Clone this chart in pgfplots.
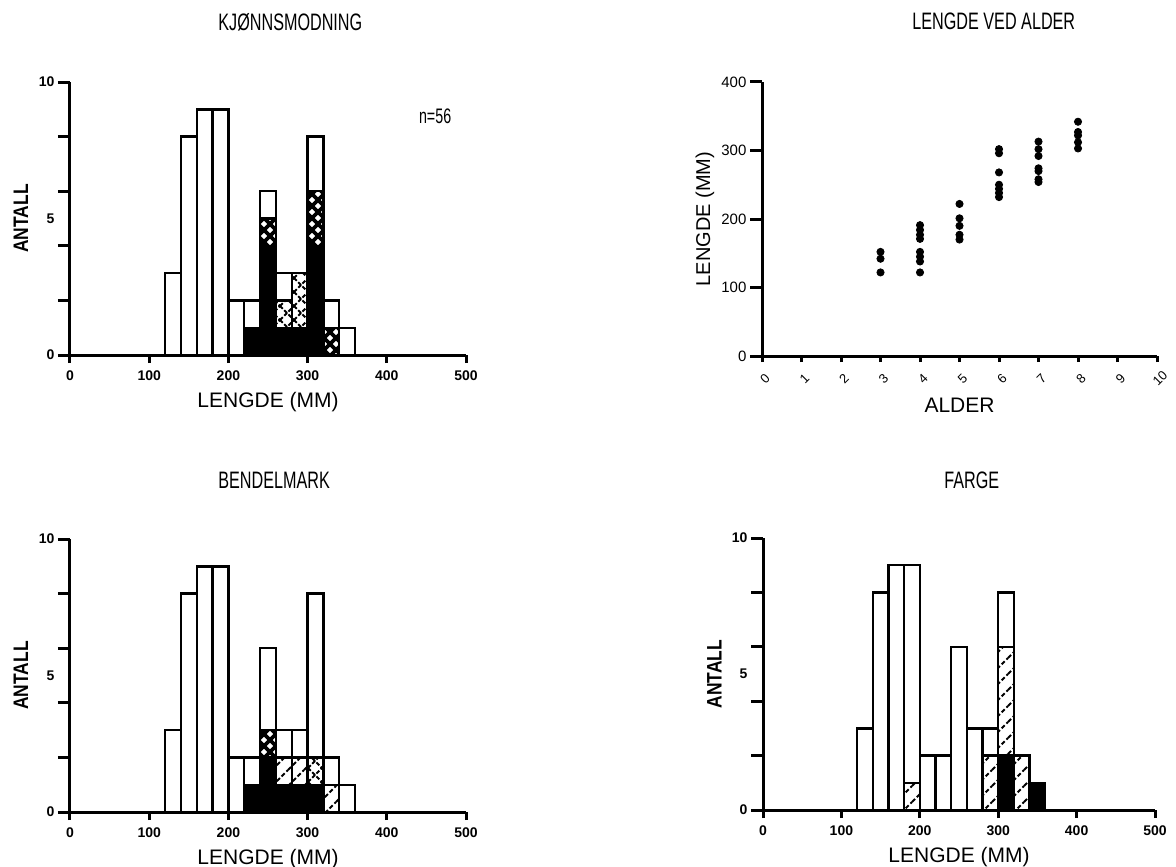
\documentclass[border=0pt]{standalone}
\usepackage{fontspec}
\setmainfont{Liberation Sans}
\newfontfamily\narrowfont[FakeStretch=0.68]{Liberation Sans}
\newfontfamily\semifont[FakeStretch=0.83]{Liberation Sans}
\usepackage{pgfplots}
\usepackage{pgfplotstable}
\pgfplotsset{compat=1.18}
\usetikzlibrary{patterns}

% black lattice with white holes
\pgfdeclarepatternformonly{thickx}{\pgfqpoint{-1pt}{-1pt}}{\pgfqpoint{7pt}{7pt}}{\pgfqpoint{6pt}{6pt}}{%
  \pgfsetlinewidth{1.8pt}
  \pgfpathmoveto{\pgfqpoint{0pt}{0pt}}\pgfpathlineto{\pgfqpoint{6pt}{6pt}}
  \pgfpathmoveto{\pgfqpoint{0pt}{6pt}}\pgfpathlineto{\pgfqpoint{6pt}{0pt}}
  \pgfusepath{stroke}}
% thin crosses
\pgfdeclarepatternformonly{thinx}{\pgfqpoint{-1pt}{-1pt}}{\pgfqpoint{8pt}{8pt}}{\pgfqpoint{7pt}{7pt}}{%
  \pgfsetlinewidth{0.9pt}
  \pgfsetdash{{2pt}{1pt}}{0pt}
  \pgfpathmoveto{\pgfqpoint{0pt}{0pt}}\pgfpathlineto{\pgfqpoint{7pt}{7pt}}
  \pgfpathmoveto{\pgfqpoint{0pt}{7pt}}\pgfpathlineto{\pgfqpoint{7pt}{0pt}}
  \pgfusepath{stroke}}
% dashed diagonals
\pgfdeclarepatternformonly{diag}{\pgfqpoint{-1pt}{-1pt}}{\pgfqpoint{9pt}{9pt}}{\pgfqpoint{8pt}{8pt}}{%
  \pgfsetlinewidth{0.9pt}
  \pgfsetdash{{2.2pt}{1.2pt}}{0pt}
  \pgfpathmoveto{\pgfqpoint{0pt}{0pt}}\pgfpathlineto{\pgfqpoint{8pt}{8pt}}
  \pgfusepath{stroke}}

\pgfplotstableread{
x   blk pc px wht
130 0 0 0 3
150 0 0 0 8
170 0 0 0 9
190 0 0 0 9
210 0 0 0 2
230 1 0 0 1
250 4 1 0 1
270 1 0 1 1
290 1 0 2 0
310 4 2 0 2
330 0 1 0 1
350 0 0 0 1
}\tabKJ

\pgfplotstableread{
x   blk pc dg px wht
130 0 0 0 0 3
150 0 0 0 0 8
170 0 0 0 0 9
190 0 0 0 0 9
210 0 0 0 0 2
230 1 0 0 0 1
250 2 1 0 0 3
270 1 0 1 0 1
290 1 0 1 0 1
310 1 0 0 1 6
330 0 0 1 0 1
350 0 0 0 0 1
}\tabBM

\pgfplotstableread{
x   blk dg wht
130 0 0 3
150 0 0 8
170 0 0 9
190 0 1 8
210 0 0 2
230 0 0 2
250 0 0 6
270 0 0 3
290 0 2 1
310 2 4 2
330 0 2 0
350 1 0 0
}\tabFA

\pgfplotsset{
  base/.style={
    scale only axis,
    axis x line*=bottom, axis y line*=left,
    axis line style={line width=1.5pt},
    tick align=outside,
    major tick style={line width=1.5pt, black},
    /pgf/number format/assume math mode=true,
    clip=false,
  },
  hist/.style={
    base,
    width=198pt, height=136.5pt,
    xmin=0, xmax=500, ymin=0, ymax=10,
    xtick style={/pgfplots/major tick length=4pt},
    ytick style={/pgfplots/major tick length=6pt},
    xtick={0,100,200,300,400,500},
    ytick={0,2,4,6,8,10}, yticklabels={0,,,,,10},
    extra y ticks={5}, extra y tick labels={5},
    extra y tick style={major tick style={draw=none}},
    tick label style={font=\bfseries\fontsize{7}{8}\selectfont},
    xlabel={LENGDE (MM)}, ylabel={ANTALL},
    xlabel style={at={(axis description cs:0.5,-0.172)}, anchor=center,
      font=\fontsize{10.5}{12}\selectfont},
    ylabel style={at={(axis description cs:-0.1237,0.5)}, anchor=center,
      font=\semifont\bfseries\fontsize{10.5}{12}\selectfont},
    ybar stacked, bar width=20,
  },
  blk/.style={fill=black, draw=black, line width=1.2pt},
  wht/.style={fill=white, draw=black, line width=1.2pt},
  pat/.style={pattern=#1, draw=black, line width=1.2pt},
}

\begin{document}
\begin{tikzpicture}
\path[use as bounding box] (0,0) rectangle (588pt,-433pt);

\node[anchor=west, inner sep=0, font=\narrowfont\fontsize{11.9}{13}\selectfont] at (109pt,-11pt) {KJØNNSMODNING};
\node[anchor=west, inner sep=0, font=\narrowfont\fontsize{11.9}{13}\selectfont] at (456pt,-10.5pt) {LENGDE VED ALDER};
\node[anchor=west, inner sep=0, font=\narrowfont\fontsize{11.9}{13}\selectfont] at (472pt,-240pt) {FARGE};
\node[anchor=west, inner sep=0, font=\narrowfont\fontsize{11.9}{13}\selectfont] at (109pt,-240pt) {BENDELMARK};

% KJØNNSMODNING
\begin{axis}[hist, at={(35pt,-177.5pt)}, anchor=south west]
\addplot[blk] table[x=x,y=blk]{\tabKJ};
\addplot[pat=thickx] table[x=x,y=pc]{\tabKJ};
\addplot[pat=thinx] table[x=x,y=px]{\tabKJ};
\addplot[wht] table[x=x,y=wht]{\tabKJ};
\node[font=\narrowfont\fontsize{10.5}{12}\selectfont] at (axis cs:461,8.75) {n=56};
\end{axis}

% BENDELMARK
\begin{axis}[hist, at={(35pt,-406pt)}, anchor=south west]
\addplot[blk] table[x=x,y=blk]{\tabBM};
\addplot[pat=thickx] table[x=x,y=pc]{\tabBM};
\addplot[pat=diag] table[x=x,y=dg]{\tabBM};
\addplot[pat=thinx] table[x=x,y=px]{\tabBM};
\addplot[wht] table[x=x,y=wht]{\tabBM};
\end{axis}

% FARGE
\begin{axis}[hist, width=196pt, height=136pt, at={(381.5pt,-405pt)}, anchor=south west]
\addplot[blk] table[x=x,y=blk]{\tabFA};
\addplot[pat=diag] table[x=x,y=dg]{\tabFA};
\addplot[wht] table[x=x,y=wht]{\tabFA};
\end{axis}

% LENGDE VED ALDER
\begin{axis}[base, width=197.5pt, height=137pt, at={(381pt,-178pt)}, anchor=south west,
  xmin=0, xmax=10, ymin=0, ymax=400,
  xtick={0,1,...,10}, ytick={0,100,200,300,400},
  xtick style={/pgfplots/major tick length=3pt},
  ytick style={/pgfplots/major tick length=6pt},
  yticklabel style={font=\fontsize{7.5}{8}\selectfont},
  xticklabel style={font=\fontsize{6.5}{7}\selectfont, yshift=-7pt, xshift=1.5pt, rotate=45, anchor=center},
  xlabel={ALDER}, ylabel={LENGDE (MM)},
  xlabel style={at={(axis description cs:0.5,-0.179)}, anchor=center, font=\fontsize{10.5}{12}\selectfont},
  ylabel style={at={(axis description cs:-0.1443,0.5)}, anchor=center, font=\fontsize{10}{12}\selectfont},
]
\addplot[only marks, mark=*, mark size=1.8pt, black] coordinates {
(3,152) (3,142) (3,122)
(4,191) (4,184) (4,177) (4,171) (4,152) (4,145) (4,138) (4,122)
(5,222) (5,201) (5,190) (5,177) (5,170)
(6,302) (6,296) (6,268) (6,250) (6,244) (6,238) (6,232)
(7,313) (7,302) (7,292) (7,274) (7,270) (7,258) (7,254)
(8,342) (8,327) (8,322) (8,312) (8,303)
};
\end{axis}
\end{tikzpicture}
\end{document}
